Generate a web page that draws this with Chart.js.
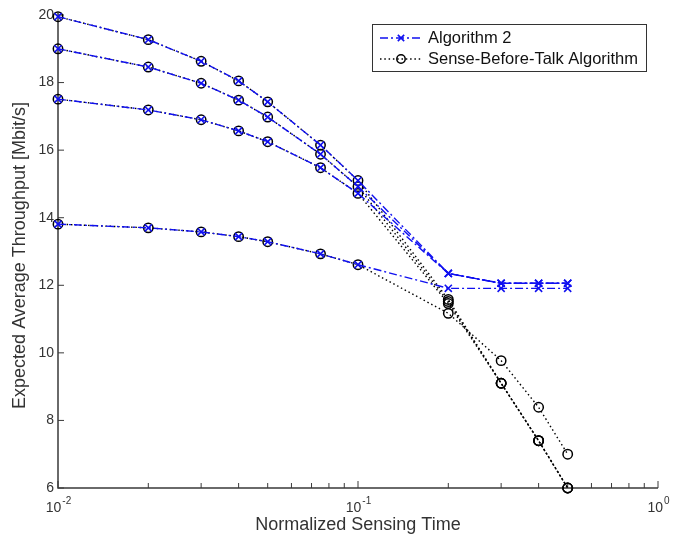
<!DOCTYPE html>
<html>
<head>
<meta charset="utf-8">
<script src="https://cdn.jsdelivr.net/npm/chart.js@4.4.1/dist/chart.umd.min.js"></script>
<style>
  html, body { margin: 0; padding: 0; background: #fff; }
</style>
</head>
<body>
<canvas id="throughputChart" width="684" height="537"></canvas>
<script>
// normalized sensing time (log axis)
const sensingTime = [0.01, 0.02, 0.03, 0.04, 0.05, 0.075, 0.1, 0.2, 0.3, 0.4, 0.5];

// Algorithm 2, four configurations
const alg2A = [19.95, 19.27, 18.63, 18.05, 17.43, 16.15, 15.1, 12.35, 12.06, 12.06, 12.06];
const alg2B = [19.0, 18.46, 17.98, 17.48, 16.98, 15.88, 14.92, 12.35, 12.06, 12.06, 12.06];
const alg2C = [17.51, 17.19, 16.9, 16.57, 16.25, 15.48, 14.72, 12.35, 12.06, 12.06, 12.06];
const alg2D = [13.81, 13.7, 13.58, 13.44, 13.29, 12.93, 12.61, 11.91, 11.91, 11.91, 11.91];

// Sense-Before-Talk, same four configurations
const sbtA = [19.95, 19.27, 18.63, 18.05, 17.43, 16.15, 15.1, 11.58, 9.1, 7.4, 6.0];
const sbtB = [19.0, 18.46, 17.98, 17.48, 16.98, 15.88, 14.92, 11.52, 9.1, 7.4, 6.0];
const sbtC = [17.51, 17.19, 16.9, 16.57, 16.25, 15.48, 14.72, 11.46, 9.1, 7.4, 6.0];
const sbtD = [13.81, 13.7, 13.58, 13.44, 13.29, 12.93, 12.61, 11.17, 9.77, 8.39, 7.0];

const yTicks = [6, 8, 10, 12, 14, 16, 18, 20];
const xDecades = [-2, -1, 0];
const legendLabels = ["Algorithm 2", "Sense-Before-Talk Algorithm"];
const xTitle = "Normalized Sensing Time";
const yTitle = "Expected Average Throughput [Mbit/s]";

const BLUE = "#1010f0";
const AXIS = "#3a3a3a";
const FONT = "'Liberation Sans', Arial, sans-serif";

const toPoints = (ys) => sensingTime.map((x, i) => ({ x: x, y: ys[i] }));

const alg2Style = {
  borderColor: BLUE,
  backgroundColor: BLUE,
  borderWidth: 1.4,
  borderDash: [8, 3, 2, 3],
  pointStyle: "crossRot",
  pointRadius: 5,
  pointBorderWidth: 1.6,
  pointBorderColor: BLUE,
  showLine: true,
  fill: false,
  clip: false,
};

const sbtStyle = {
  borderColor: "#000",
  backgroundColor: "rgba(0,0,0,0)",
  borderWidth: 1.4,
  borderDash: [1.5, 2.8],
  pointStyle: "circle",
  pointRadius: 4.7,
  pointBorderWidth: 1.5,
  pointBorderColor: "#000",
  pointBackgroundColor: "rgba(0,0,0,0)",
  showLine: true,
  fill: false,
  clip: false,
};

const datasets = [
  ...[alg2A, alg2B, alg2C, alg2D].map((d) => ({ ...alg2Style, data: toPoints(d) })),
  ...[sbtA, sbtB, sbtC, sbtD].map((d) => ({ ...sbtStyle, data: toPoints(d) })),
];

// axes, ticks and titles drawn from the chart's own scales
const axesPlugin = {
  id: "matlabAxes",
  beforeDatasetsDraw(chart) {
    const { ctx, chartArea: a, scales } = chart;
    const xs = scales.x, ys = scales.y;
    ctx.save();
    ctx.strokeStyle = AXIS;
    ctx.lineWidth = 1.5;
    ctx.beginPath();
    ctx.moveTo(a.left, a.top - 2);
    ctx.lineTo(a.left, a.bottom);
    ctx.lineTo(a.right, a.bottom);
    ctx.stroke();

    // y ticks point inward
    ctx.lineWidth = 1;
    ctx.fillStyle = "#333";
    ctx.font = "14px " + FONT;
    ctx.textAlign = "right";
    ctx.textBaseline = "middle";
    yTicks.forEach((v) => {
      const py = ys.getPixelForValue(v);
      ctx.beginPath();
      ctx.moveTo(a.left, py);
      ctx.lineTo(a.left + 6, py);
      ctx.stroke();
      ctx.fillText(String(v), a.left - 4, py);
    });

    // x major and minor ticks
    xDecades.forEach((e, k) => {
      for (let m = 1; m <= 9; m++) {
        if (k === xDecades.length - 1 && m > 1) break;
        const px = xs.getPixelForValue(m * Math.pow(10, e));
        const len = m === 1 ? 7 : 5;
        ctx.beginPath();
        ctx.moveTo(px, a.bottom);
        ctx.lineTo(px, a.bottom - len);
        ctx.stroke();
      }
      // label 10^e
      const px = xs.getPixelForValue(Math.pow(10, e));
      const sup = String(e);
      ctx.font = "14px " + FONT;
      const w1 = ctx.measureText("10").width;
      ctx.font = "10px " + FONT;
      const w2 = ctx.measureText(sup).width;
      const x0 = px - (w1 + w2) / 2;
      ctx.textAlign = "left";
      ctx.textBaseline = "alphabetic";
      ctx.font = "14px " + FONT;
      ctx.fillText("10", x0, a.bottom + 24);
      ctx.font = "10px " + FONT;
      ctx.fillText(sup, x0 + w1 + 1, a.bottom + 16);
    });

    // axis titles
    ctx.font = "18px " + FONT;
    ctx.fillStyle = "#333";
    ctx.textAlign = "center";
    ctx.textBaseline = "middle";
    ctx.fillText(xTitle, (a.left + a.right) / 2, a.bottom + 37);
    ctx.save();
    ctx.translate(20, (a.top + a.bottom) / 2 + 4);
    ctx.rotate(-Math.PI / 2);
    ctx.fillText(yTitle, 0, 0);
    ctx.restore();
    ctx.restore();
  },
  afterDraw(chart) {
    const { ctx } = chart;
    const bx = 372, by = 24, bw = 274, bh = 47;
    ctx.save();
    ctx.fillStyle = "#fff";
    ctx.fillRect(bx, by, bw, bh);
    ctx.strokeStyle = "#333";
    ctx.lineWidth = 1;
    ctx.strokeRect(bx + 0.5, by + 0.5, bw, bh);

    const rows = [
      { y: by + 14, style: alg2Style },
      { y: by + 35, style: sbtStyle },
    ];
    rows.forEach((r, i) => {
      const s = r.style;
      ctx.strokeStyle = s.borderColor;
      ctx.lineWidth = s.borderWidth;
      ctx.setLineDash(s.borderDash);
      ctx.beginPath();
      ctx.moveTo(bx + 8, r.y);
      ctx.lineTo(bx + 50, r.y);
      ctx.stroke();
      ctx.setLineDash([]);
      ctx.lineWidth = s.pointBorderWidth;
      ctx.strokeStyle = s.pointBorderColor;
      ctx.fillStyle = "rgba(0,0,0,0)";
      Chart.helpers.drawPoint(ctx, { pointStyle: s.pointStyle, radius: s.pointRadius - 0.5, rotation: 0, borderWidth: s.pointBorderWidth }, bx + 29, r.y);
      ctx.fillStyle = "#111";
      ctx.font = "16.5px " + FONT;
      ctx.textAlign = "left";
      ctx.textBaseline = "middle";
      ctx.fillText(legendLabels[i], bx + 56, r.y);
    });
    ctx.restore();
  },
};

new Chart(document.getElementById("throughputChart"), {
  type: "scatter",
  data: { datasets: datasets },
  options: {
    responsive: false,
    animation: false,
    layout: { padding: { left: 58, top: 15, right: 26, bottom: 49 } },
    plugins: { legend: { display: false }, tooltip: { enabled: false } },
    scales: {
      x: { type: "logarithmic", min: 0.01, max: 1, display: false },
      y: { type: "linear", min: 6, max: 20, display: false },
    },
  },
  plugins: [axesPlugin],
});
</script>
</body>
</html>
